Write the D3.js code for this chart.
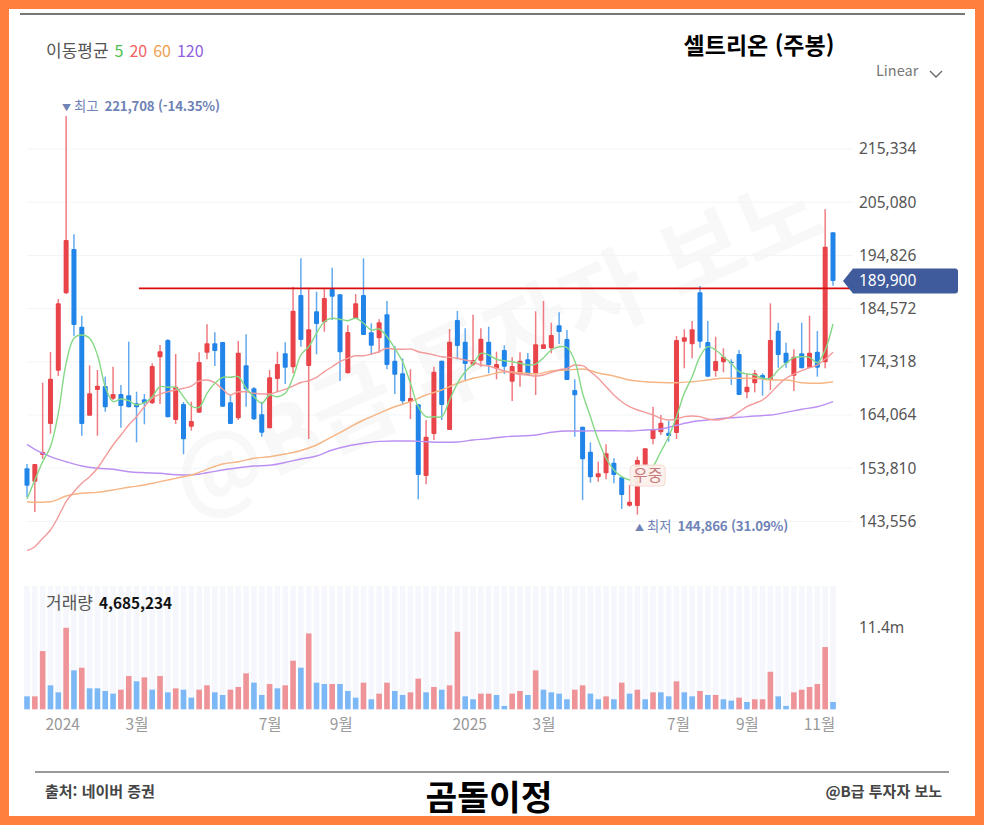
<!DOCTYPE html>
<html lang="ko">
<head>
<meta charset="utf-8">
<title>셀트리온 (주봉)</title>
<script src="https://cdn.jsdelivr.net/npm/d3@7"></script>
<style>
  html, body { margin: 0; padding: 0; background: #ff7f3f; }
  svg { display: block; }
  text { font-family: "Noto Sans CJK KR", "Noto Sans", sans-serif; }
  .price-axis text, .volume-axis text { fill: #555; font-size: 15.5px; font-family: "Noto Sans", sans-serif; }
  .time-axis text { fill: #999; font-size: 15.5px; }
  .note { fill: #6f83b6; font-size: 13.3px; }
</style>
</head>
<body>
<div id="graph"></div>
<script>
const graphWidth = 984;
const graphHeight = 825;

const opens = [153790,151210,156350,162330,172600,187520,196060,181080,163930,168880,
  169650,167210,168110,167860,166320,167090,166320,175180,178520,163100,
  166180,161810,164510,176070,177880,178130,166510,163430,173640,169210,
  164200,161500,171000,175960,173260,187190,173510,184050,181930,188350,
  187330,172100,182570,187190,180000,178850,183470,174530,172100,166570,
  166130,152310,160400,174530,161170,182370,178190,173760,174530,178190,
  172990,176590,170480,171770,174800,172100,176780,176920,181350,178710,
  168880,161810,156990,152050,152830,154870,152050,146580,146520,154230,
  159440,160730,160650,160590,178190,177690,187710,178130,172540,174220,
  174340,175820,168440,170170,171770,170810,180310,176070,171640,175960,
  173180,176260,174220,199280];
const closes = [150440,154620,156930,171060,185590,197790,181410,162330,168250,169710,
  165550,168110,165800,165550,165550,166320,173510,176340,163620,169520,
  159380,162910,174280,177880,176400,165660,162330,176070,169020,163230,
  160650,171330,173890,173180,184170,178520,180580,181600,186610,186860,
  176150,180060,185590,179480,177420,181930,173700,171830,166700,167340,
  152500,159880,172410,165990,178190,177360,173890,174660,178770,173700,
  173890,173370,173510,174530,171830,177690,177690,179480,180060,170810,
  167860,155520,152050,152830,156680,152500,148640,147350,155390,157650,
  161310,162580,160020,178520,179040,180580,178190,171450,174470,175300,
  174030,167920,169520,172100,171000,178520,175630,174030,175300,173060,
  176070,173180,196500,189900];
const highs = [154620,154620,170290,176210,186420,221708,198890,183200,173640,172740,
  171450,173370,169850,178190,168550,168110,174030,177550,178710,175820,
  166570,166630,176150,181540,180000,178130,167920,178330,179620,169460,
  166630,172740,176260,178080,188790,194270,188600,187830,188350,192450,
  187330,181350,187380,194270,181740,182510,186040,177360,174990,172870,
  166130,163100,173370,174530,180640,184110,180770,183390,180770,181080,
  176260,177500,175180,176150,176000,184050,186040,181850,183860,180450,
  170940,161810,158800,155060,158410,155720,152050,150570,156030,157650,
  165660,164060,162960,179290,180580,182180,188930,182180,179150,176920,
  174800,176590,171970,172740,172100,185590,181850,178000,176730,181850,
  183200,180250,203710,199280];
const lows = [148260,145370,155580,160460,171580,187380,179290,160070,163930,160070,
  164700,166950,161620,165550,158800,162270,166180,166180,163620,162330,
  156490,161040,164510,174800,173510,165660,162330,163100,165660,163100,
  159880,161500,168550,170040,172100,177230,159440,175760,180120,182370,
  170620,172100,182570,179480,175630,176070,172870,168110,165990,163290,
  147820,150710,159240,163100,161170,174800,170620,173510,173370,172100,
  170940,171970,166760,169520,171830,167920,176780,175960,177750,170810,
  159880,147680,151010,151210,151670,150900,145950,146390,144866,154230,
  158410,160210,158920,159440,173060,174990,177030,171450,171450,172290,
  169850,167920,167280,168440,167780,168880,173180,173180,168690,173060,
  173060,171450,173060,188980];

const ma5 = [147870,151530,155060,157950,164390,174030,178850,179480,178850,175630,
  169520,166630,167150,166820,165990,166430,167590,169520,169400,169400,
  167590,165800,165550,168250,170170,171330,171330,171450,169210,167590,
  166320,167920,167590,168250,171290,175630,177230,179810,182050,182700,
  182510,182240,182700,181740,180450,180640,179150,176920,174340,170170,
  165660,163740,163740,163740,166950,170170,172410,173890,175960,175630,
  174800,174530,174340,174030,173700,173890,175110,176590,177230,177070,
  174470,168250,163740,159240,155720,153460,152170,151530,151530,152170,
  154100,156990,159880,163740,168250,171450,175300,177230,176590,175300,
  174030,172410,171970,171770,171140,171140,172740,174030,175110,175300,
  175180,174140,176590,181600];
const ma20 = [137910,138680,140300,141900,144460,147350,149280,150900,152170,153790,
  156030,158280,160210,162140,163740,165660,167280,168110,168550,168880,
  169210,169650,170620,170810,170290,169020,167920,168550,168550,168250,
  168110,168110,168550,169020,169650,170330,170670,171330,172410,173370,
  174340,174990,175490,175490,175820,176260,176920,176730,176730,176780,
  176260,175960,175630,175300,175180,174990,174660,174340,173700,173510,
  173060,172540,172220,171910,171770,171580,171770,172290,172740,173060,
  173700,173570,172410,171140,169520,167920,166630,165660,165030,164580,
  164060,163430,163100,163290,163740,163870,163740,163290,163100,163290,
  163740,164700,165660,166320,166950,168250,169850,171140,171970,172600,
  173180,173700,174800,176150];

// long averages were read every second week
const longWeeks = [0,1,3,5,7,9,11,13,15,17,19,21,23,25,27,29,31,33,35,37,39,41,43,45,47,49,51,
  53,55,57,59,61,63,65,67,69,71,73,75,77,79,81,83,85,87,89,91,93,95,97,99,101,103];
const ma60 = [147350,147240,147350,148450,148970,149160,149610,150130,150570,151210,151860,152500,153600,154620,
  155060,155720,156030,156550,157220,158280,159880,161500,163100,164390,165660,166630,167920,
  168880,170170,171140,171770,172410,172220,171970,172540,172740,172930,172160,171580,170810,170480,170330,
  170290,170480,170810,171140,171140,171140,170810,170810,170290,170170,170480];
const ma120 = [158410,157450,156030,155060,154230,153790,153600,153130,152940,152830,152560,152500,152940,153460,
  153910,154230,154370,154910,155580,156160,157320,158090,158610,158990,159050,159050,158920,
  158800,158860,159240,159500,159880,160020,160210,160730,160980,160980,161040,161040,160980,161170,161360,
  162080,162770,163100,163430,163620,163870,164060,164580,165160,165660,166630];

const volumes = [1.81,1.81,8.14,3.35,2.37,11.39,5.44,5.81,2.93,2.93,
  2.56,2.19,2.74,4.65,3.91,4.46,2.74,4.65,2.37,2.93,
  2.74,1.63,2.74,3.35,2.37,2.0,2.74,3.12,5.02,3.72,
  2.0,3.53,2.93,3.35,6.79,5.81,10.6,3.72,3.53,3.53,
  3.53,2.56,1.63,3.72,1.4,2.19,3.72,2.56,2.0,2.37,
  4.28,2.37,3.12,2.74,3.35,10.83,1.81,1.4,2.19,2.19,
  2.0,0.47,2.19,2.56,2.0,5.44,2.74,2.37,2.19,1.4,
  2.74,3.35,2.19,1.4,1.81,1.4,3.72,2.19,2.74,1.4,
  2.37,2.37,1.81,3.91,2.37,1.81,2.56,2.0,2.0,1.4,
  1.21,1.63,1.02,1.4,1.4,5.25,1.81,0.47,2.37,2.74,
  3.12,3.53,8.7,1.02];
const volumeSides = 'BRRBBRBRBB' + 'BBRRBRBRBR' + 'BBRRBBRRRB' + 'BRBRRBRBBR' + 'BBBRBRRBBR' +
  'RBRBRRBBRR' + 'BBRRBRBBBB' + 'RRBBRBRBRB' + 'RBBRBBRBRB' + 'BRBRRRBBRR' + 'RRRB';

const priceTicks = [215334,205080,194826,184572,174318,164064,153810,143556];
const volumeTicks = [11.4];
const timeWeeks = [4.5,14,31,40.1,56.5,66,83.2,92,101.2];
const timeLabels = ['2024','3월','7월','9월','2025','3월','7월','9월','11월'];

const lastPrice = 189900;
const resistance = 188480;
const resistanceFromWeek = 14.3;
const maLegend = [['5','#4cc04c'],['20','#f06464'],['60','#f0a050'],['120','#9060e0']];
const weeks = d3.range(closes.length);

const x = d3.scaleLinear().domain([0, 103]).range([27, 833]);
const y = d3.scaleLinear().domain([143556, 215334]).range([521.4, 149]);
const yVol = d3.scaleLinear().domain([0, 11.4]).range([709.3, 627.7]);

const svg = d3.select('#graph').append('svg')
  .attr('width', graphWidth).attr('height', graphHeight);

makeFrame(svg);
makeWatermark(svg);
makeGrid(svg);
makeVolume(svg);
makeCandles(svg);
makeAverages(svg);
makeAxes(svg);
makeNotes(svg);
makeLabels(svg);

function makeFrame(sel) {
  sel.append('rect').attr('width', graphWidth).attr('height', graphHeight).attr('fill', '#ff7f3f');
  sel.append('rect').attr('x', 9).attr('y', 9).attr('width', 966).attr('height', 807).attr('fill', '#fff');
  sel.append('rect').attr('x', 20).attr('y', 13).attr('width', 945).attr('height', 2).attr('fill', '#777');
  sel.append('rect').attr('x', 35).attr('y', 771).attr('width', 914).attr('height', 2).attr('fill', '#999');
}

function makeWatermark(sel) {
  sel.append('text')
    .attr('transform', 'translate(497,345) rotate(-24)')
    .attr('text-anchor', 'middle')
    .attr('dy', '0.35em')
    .attr('font-size', 90)
    .attr('font-weight', 700)
    .attr('fill', '#f8f8f8')
    .text('@B급 투자자 보노');
}

function makeGrid(sel) {
  sel.append('g').selectAll('line').data(priceTicks).enter().append('line')
    .attr('x1', 27).attr('x2', 853)
    .attr('y1', d => y(d)).attr('y2', d => y(d))
    .attr('stroke', '#f2f5f8');
}

function makeVolume(sel) {
  const g = sel.append('g');
  g.selectAll('.stripe').data(weeks).enter().append('rect')
    .attr('class', 'stripe')
    .attr('x', d => x(d) - 2.8).attr('width', 5.6)
    .attr('y', 586).attr('height', yVol(0) - 586)
    .attr('fill', '#f5f7fc');
  g.selectAll('.bar').data(weeks).enter().append('rect')
    .attr('class', 'bar')
    .attr('x', d => x(d) - 2.8).attr('width', 5.6)
    .attr('y', d => yVol(volumes[d]))
    .attr('height', d => yVol(0) - yVol(volumes[d]))
    .attr('fill', d => volumeSides[d] === 'R' ? '#ee9498' : '#7db8f6');
}

function makeCandles(sel) {
  const isUp = d => closes[d] >= opens[d];
  const row = sel.append('g').selectAll('g').data(weeks).enter().append('g');
  row.append('line')
    .attr('x1', d => x(d)).attr('x2', d => x(d))
    .attr('y1', d => y(highs[d])).attr('y2', d => y(lows[d]))
    .attr('stroke-width', 1.5)
    .attr('stroke', d => isUp(d) ? '#ef7b80' : '#62a9ef');
  row.append('rect')
    .attr('x', d => x(d) - 2.5).attr('width', 5)
    .attr('y', d => y(Math.max(opens[d], closes[d])))
    .attr('height', d => Math.abs(y(opens[d]) - y(closes[d])))
    .attr('rx', 1)
    .attr('fill', d => isUp(d) ? '#e8444a' : '#2084e8');
}

function makeAverages(sel) {
  const line = (xs, ys, color, curve) => {
    const path = d3.line().x((d, i) => x(xs[i])).y(d => y(d)).curve(curve);
    sel.append('path').attr('d', path(ys))
      .attr('fill', 'none').attr('stroke', color).attr('stroke-width', 1.4);
  };
  line(longWeeks, ma120, '#bb90f2', d3.curveMonotoneX);
  line(longWeeks, ma60, '#f6b584', d3.curveMonotoneX);
  line(weeks, ma20, '#f39a9a', d3.curveMonotoneX);
  line(weeks, ma5, '#85d885', d3.curveCatmullRom.alpha(0.5));
}

function makeAxes(sel) {
  const right = d3.axisRight(y).tickValues(priceTicks).tickSize(0).tickPadding(0).tickFormat(d3.format(','));
  sel.append('g').attr('class', 'price-axis').attr('transform', translate(859, 0)).call(right)
    .call(g => g.select('.domain').remove());

  const vol = d3.axisRight(yVol).tickValues(volumeTicks).tickSize(0).tickPadding(0).tickFormat(d => d + 'm');
  sel.append('g').attr('class', 'volume-axis').attr('transform', translate(859, 0)).call(vol)
    .call(g => g.select('.domain').remove());

  const bottom = d3.axisBottom(x).tickValues(timeWeeks).tickSize(0).tickPadding(0)
    .tickFormat((d, i) => timeLabels[i]);
  sel.append('g').attr('class', 'time-axis').attr('transform', translate(0, 718.5)).call(bottom)
    .call(g => g.select('.domain').remove());
}

function makeNotes(sel) {
  // resistance line drawn over the candles
  sel.append('line')
    .attr('x1', x(resistanceFromWeek)).attr('x2', 851)
    .attr('y1', y(resistance)).attr('y2', y(resistance))
    .attr('stroke', '#d80c0c').attr('stroke-width', 1.8);

  // last price tag
  const yLast = y(lastPrice);
  const tag = d3.path();
  tag.moveTo(843, yLast);
  tag.lineTo(853, yLast - 12.5);
  tag.lineTo(955, yLast - 12.5);
  tag.quadraticCurveTo(958, yLast - 12.5, 958, yLast - 9.5);
  tag.lineTo(958, yLast + 9.5);
  tag.quadraticCurveTo(958, yLast + 12.5, 955, yLast + 12.5);
  tag.lineTo(853, yLast + 12.5);
  tag.closePath();
  sel.append('path').attr('d', tag.toString()).attr('fill', '#3f5b9b');
  sel.append('text').attr('x', 859).attr('y', yLast).attr('dy', '0.35em')
    .attr('fill', '#fff').attr('font-size', 15.5)
    .style('font-family', '"Noto Sans", sans-serif')
    .text(d3.format(',')(lastPrice));

  // dividend marker
  const mark = sel.append('g').attr('transform', translate(x(79) + 2.5, 475.5));
  mark.append('rect').attr('x', -17.5).attr('y', -10.5).attr('width', 35).attr('height', 21).attr('rx', 4)
    .attr('fill', '#fdf0ec').attr('fill-opacity', 0.92).attr('stroke', '#f6dcd4');
  mark.append('text').attr('text-anchor', 'middle').attr('dy', '0.36em')
    .attr('font-size', 16).attr('fill', '#c67c7c').text('우중');
}

function makeLabels(sel) {
  const legend = sel.append('text').attr('x', 46).attr('y', 57).attr('font-size', 16).attr('fill', '#555');
  legend.append('tspan').attr('font-size', 17).text('이동평균');
  maLegend.forEach(m => legend.append('tspan').attr('dx', 6).attr('fill', m[1]).text(m[0]));

  sel.append('text').attr('x', 759).attr('y', 54).attr('text-anchor', 'middle')
    .attr('font-size', 23).attr('font-weight', 700).attr('fill', '#000').text('셀트리온 (주봉)');

  sel.append('text').attr('x', 876).attr('y', 76).attr('font-size', 14.5).attr('fill', '#777').text('Linear');
  sel.append('path').attr('d', 'M930 71 L936 77 L942 71').attr('fill', 'none').attr('stroke', '#666').attr('stroke-width', 1.3);

  const top = sel.append('text').attr('class', 'note').attr('x', 62).attr('y', 111);
  top.append('tspan').attr('font-size', 9).text('▼');
  top.append('tspan').attr('dx', 3).text('최고');
  top.append('tspan').attr('dx', 6).attr('font-weight', 700).attr('letter-spacing', -0.2).text('221,708 (-14.35%)');

  const bottom = sel.append('text').attr('class', 'note').attr('x', 635).attr('y', 531);
  bottom.append('tspan').attr('font-size', 9).text('▲');
  bottom.append('tspan').attr('dx', 3).text('최저');
  bottom.append('tspan').attr('dx', 6).attr('font-weight', 700).attr('letter-spacing', -0.2).text('144,866 (31.09%)');

  const vol = sel.append('text').attr('x', 46).attr('y', 609).attr('font-size', 15.3).attr('fill', '#555');
  vol.append('tspan').attr('font-size', 17).text('거래량');
  vol.append('tspan').attr('dx', 6).attr('font-weight', 700).attr('fill', '#111').text('4,685,234');

  sel.append('text').attr('x', 45).attr('y', 797).attr('font-size', 15).attr('font-weight', 700).attr('fill', '#444').text('출처: 네이버 증권');
  sel.append('text').attr('x', 942).attr('y', 797).attr('text-anchor', 'end').attr('font-size', 15).attr('font-weight', 700).attr('fill', '#444').text('@B급 투자자 보노');
  sel.append('text').attr('x', 489).attr('y', 810).attr('text-anchor', 'middle').attr('font-size', 34.5).attr('font-weight', 700).attr('fill', '#000').text('곰돌이정');
}

function translate(a, b) {
  return 'translate(' + a + ',' + b + ')';
}
</script>
</body>
</html>
